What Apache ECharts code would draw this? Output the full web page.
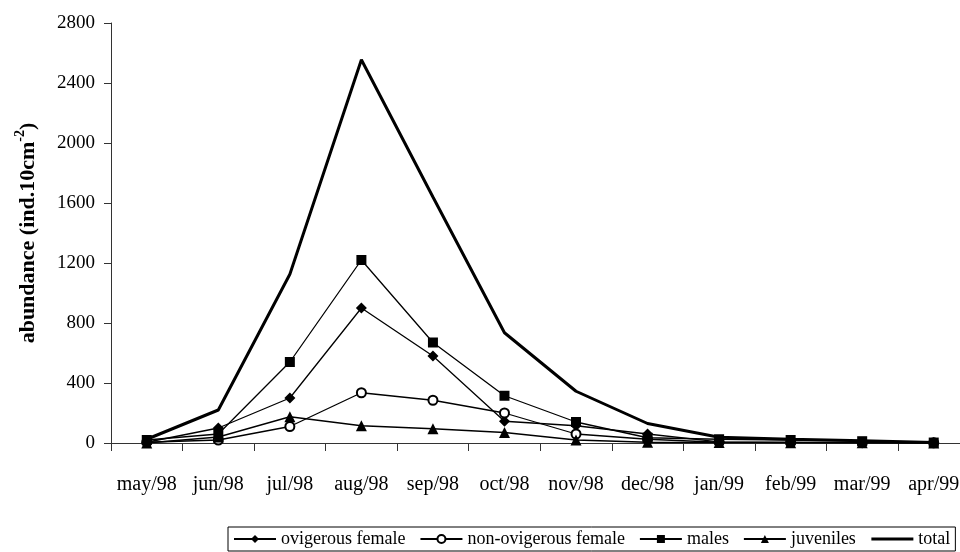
<!DOCTYPE html>
<html><head><meta charset="utf-8">
<script src="https://cdn.jsdelivr.net/npm/echarts@6/dist/echarts.min.js"></script>
<style>html,body{margin:0;padding:0;background:#fff;overflow:hidden;width:960px;height:552px}#c{width:970px;height:552px}</style>
</head><body><div id="c"></div>
<script>
const months = ['may/98','jun/98','jul/98','aug/98','sep/98','oct/98','nov/98','dec/98','jan/99','feb/99','mar/99','apr/99'];
const ovigerous = [5, 100, 300, 900, 580, 145, 115, 60, 8, 5, 3, 1];
const nonOvigerous = [5, 20, 110, 335, 285, 200, 60, 25, 5, 3, 2, 1];
const males = [20, 60, 540, 1220, 670, 315, 140, 35, 25, 20, 12, 3];
const juveniles = [0, 40, 175, 115, 95, 70, 20, 5, 3, 2, 1, 0];
const total = [25, 220, 1125, 2555, 1640, 735, 345, 130, 38, 25, 15, 3];
const yTicks = [0, 400, 800, 1200, 1600, 2000, 2400, 2800];

const font = '"Liberation Serif", "Times New Roman", serif';
const chart = echarts.init(document.getElementById('c'));
const thin = {color:'#000', width:1.3};
chart.setOption({
  animation:false,
  backgroundColor:'#fff',
  textStyle:{fontFamily:font, color:'#000'},
  grid:{left:111, top:23, right:0.5, bottom:109, containLabel:false},
  legend:{
    left:228, top:527, itemWidth:42, itemHeight:10, itemGap:14,
    borderColor:'#000', borderWidth:1, padding:[3,5,3,5],
    textStyle:{fontFamily:font, fontSize:18, color:'#000'},
    data:['ovigerous female','non-ovigerous female','males','juveniles',
      {name:'total', itemStyle:{color:'rgba(0,0,0,0)', borderColor:'rgba(0,0,0,0)', borderWidth:0},
       lineStyle:{color:'#000', width:3}}]
  },
  xAxis:{
    type:'category', data:months, boundaryGap:true,
    axisLine:{lineStyle:{color:'#333', width:1}},
    axisTick:{show:true, length:8, lineStyle:{color:'#333'}},
    axisLabel:{fontFamily:font, fontSize:20, color:'#000', margin:32, interval:0}
  },
  yAxis:{
    type:'value', min:yTicks[0], max:yTicks[yTicks.length-1], interval:400,
    name:'{a|abundance (ind.10cm}{s|-2}{a|)}',
    nameLocation:'middle', nameGap:72, nameRotate:90,
    nameTextStyle:{rich:{
      a:{fontFamily:font, fontSize:22, fontWeight:'bold', color:'#000', lineHeight:26, verticalAlign:'bottom'},
      s:{fontFamily:font, fontSize:14, fontWeight:'bold', color:'#000', lineHeight:26, verticalAlign:'top'}
    }},
    axisLine:{show:true, lineStyle:{color:'#333', width:1}},
    axisTick:{show:true, length:7, lineStyle:{color:'#333'}},
    splitLine:{show:false},
    axisLabel:{fontFamily:font, fontSize:19, color:'#000', margin:16, formatter:v => String(v)}
  },
  series:[
    {name:'ovigerous female', type:'line', data:ovigerous, symbol:'diamond', symbolSize:11,
     lineStyle:thin, itemStyle:{color:'#000'}},
    {name:'non-ovigerous female', type:'line', data:nonOvigerous, symbol:'emptyCircle', symbolSize:9,
     lineStyle:thin, itemStyle:{color:'#000', borderColor:'#000', borderWidth:1}},
    {name:'males', type:'line', data:males, symbol:'rect', symbolSize:10,
     lineStyle:thin, itemStyle:{color:'#000'}},
    {name:'juveniles', type:'line', data:juveniles, symbol:'triangle', symbolSize:11,
     lineStyle:thin, itemStyle:{color:'#000'}},
    {name:'total', type:'line', data:total, symbol:'none',
     lineStyle:{color:'#000', width:3}, itemStyle:{color:'#000'}}
  ]
});
</script></body></html>
